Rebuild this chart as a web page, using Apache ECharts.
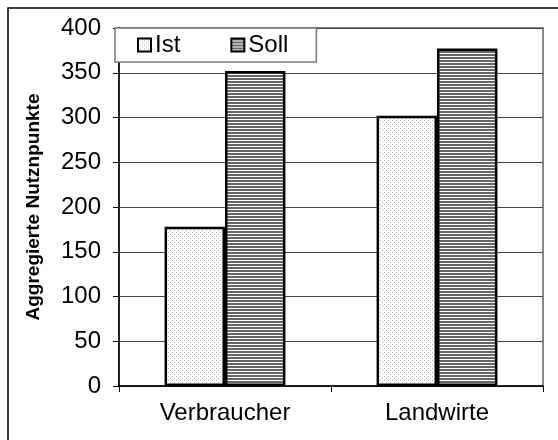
<!DOCTYPE html>
<html>
<head>
<meta charset="utf-8">
<script src="https://cdn.jsdelivr.net/npm/echarts@6/dist/echarts.min.js"></script>
<style>
html,body{margin:0;padding:0;background:#fff;}
#main{width:558px;height:440px;}
</style>
</head>
<body>
<div id="main"></div>
<script>
var categories = ['Verbraucher', 'Landwirte'];
var seriesNames = ['Ist', 'Soll'];
var istValues = [178, 302];
var sollValues = [352, 377];
var yTicks = [0, 50, 100, 150, 200, 250, 300, 350, 400];

function dotPattern() {
  var c = document.createElement('canvas');
  c.width = 4; c.height = 4;
  var g = c.getContext('2d');
  g.fillStyle = '#ffffff'; g.fillRect(0, 0, 4, 4);
  g.fillStyle = '#b0b0b0';
  g.fillRect(0, 0, 1, 1);
  g.fillRect(2, 2, 1, 1);
  return c;
}
function stripePattern() {
  var c = document.createElement('canvas');
  c.width = 4; c.height = 3;
  var g = c.getContext('2d');
  g.fillStyle = '#ffffff'; g.fillRect(0, 0, 4, 3);
  g.fillStyle = '#666666'; g.fillRect(0, 0, 4, 2);
  return c;
}

var chart = echarts.init(document.getElementById('main'), null, {renderer: 'canvas'});
var font = 'Liberation Sans, Arial, sans-serif';
chart.setOption({
  animation: false,
  backgroundColor: '#ffffff',
  graphic: [{
    type: 'rect',
    shape: {x: 8, y: 8, width: 600, height: 500},
    style: {fill: 'none', stroke: '#000', lineWidth: 1.5},
    silent: true, z: -1
  }],
  grid: {
    left: 119, right: 15, top: 28, bottom: 54,
    show: true, borderColor: '#888', borderWidth: 2, backgroundColor: 'transparent'
  },
  legend: {
    left: 115, top: 28,
    data: seriesNames,
    backgroundColor: '#fff',
    borderColor: '#777', borderWidth: 1.5, borderRadius: 0,
    padding: [5, 28, 5, 22],
    itemGap: 50,
    itemWidth: 13, itemHeight: 13,
    icon: 'rect',
    textStyle: {fontFamily: font, fontSize: 24, color: '#000', padding: [0, 0, 0, -1]},
    z: 10
  },
  xAxis: {
    type: 'category',
    data: categories,
    axisLine: {lineStyle: {color: '#000', width: 1.5}},
    axisTick: {show: true, length: 6, lineStyle: {color: '#000', width: 1}},
    axisLabel: {fontFamily: font, fontSize: 24, color: '#000', margin: 15}
  },
  yAxis: {
    type: 'value',
    min: 0, max: 400, interval: 50,
    name: 'Aggregierte Nutznpunkte',
    nameLocation: 'middle',
    nameRotate: 90,
    nameGap: 76,
    nameTextStyle: {fontFamily: font, fontSize: 19, fontWeight: 'bold', color: '#000'},
    axisLine: {show: true, lineStyle: {color: '#000', width: 1.5}},
    axisTick: {show: true, length: 6, lineStyle: {color: '#000'}},
    axisLabel: {
      fontFamily: font, fontSize: 24, color: '#000', margin: 18,
      formatter: function (v) { return yTicks.indexOf(v) >= 0 ? String(v) : ''; }
    },
    splitLine: {show: true, lineStyle: {color: '#444', width: 1}}
  },
  series: [{
    name: seriesNames[0],
    type: 'bar',
    data: istValues,
    barGap: '0%',
    barCategoryGap: '43%',
    itemStyle: {color: {image: dotPattern(), repeat: 'repeat'}, borderColor: '#000', borderWidth: 2.5}
  }, {
    name: seriesNames[1],
    type: 'bar',
    data: sollValues,
    barGap: '0%',
    barCategoryGap: '43%',
    itemStyle: {color: {image: stripePattern(), repeat: 'repeat'}, borderColor: '#000', borderWidth: 2.5}
  }]
});
</script>
</body>
</html>
